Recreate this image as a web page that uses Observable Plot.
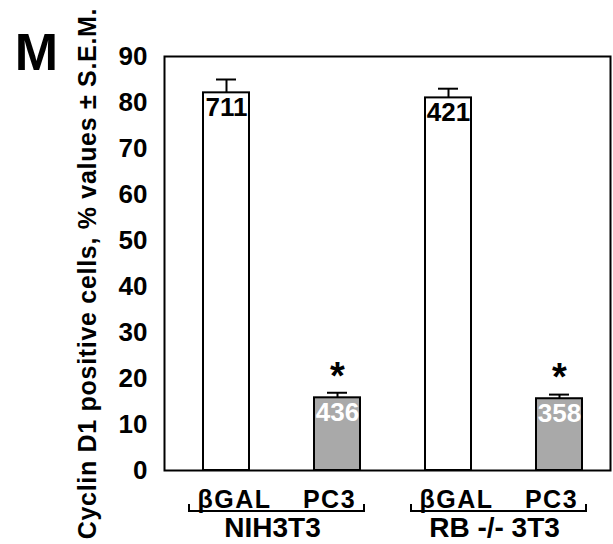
<!DOCTYPE html>
<html><head><meta charset="utf-8">
<script src="https://cdn.jsdelivr.net/npm/d3@7"></script>
<script src="https://cdn.jsdelivr.net/npm/@observablehq/plot@0.6"></script>
<style>
body{margin:0;background:#fff;}
</style></head><body><div id="chart"></div>
<script>
const groups = ["NIH3T3", "RB -/- 3T3"];
const treatments = ["βGAL", "PC3"];
const values = [82.1, 15.8, 81.0, 15.6];
const sems = [2.9, 1.1, 2.0, 0.9];
const counts = ["711", "436", "421", "358"];
const yTicks = [0, 10, 20, 30, 40, 50, 60, 70, 80, 90];
const yLabel = "Cyclin D1 positive cells, % values ± S.E.M.";
const panelLetter = "M";
const sigMark = "*";

const data = [];
groups.forEach((g, gi) => treatments.forEach((t, ti) => {
  const i = gi * treatments.length + ti;
  data.push({id: g + "|" + t, group: g, treatment: t, value: values[i], sem: sems[i], n: counts[i]});
}));
const ids = data.map(d => d.id);
const FONT = "'Liberation Sans', Arial, Helvetica, sans-serif";

function brackets(index, scales) {
  const x = scales.x, y = scales.y;
  const bw = x.bandwidth ? x.bandwidth() : 0;
  const g = d3.create("svg:g");
  groups.forEach(grp => {
    const gi = treatments.map(t => grp + "|" + t);
    const left = x(gi[0]) - 14;
    const right = x(gi[gi.length - 1]) + bw + 4;
    const yb = y(0) + 41;
    g.append("path")
      .attr("d", `M${left},${yb - 7}V${yb}H${right}V${yb - 7}`)
      .attr("fill", "none").attr("stroke", "black").attr("stroke-width", 2);
    g.append("text")
      .attr("x", (left + right) / 2 - 4)
      .attr("y", y(0) + 67)
      .attr("text-anchor", "middle")
      .attr("font-family", FONT)
      .attr("font-weight", "bold")
      .attr("font-size", 28)
      .text(grp);
  });
  return g.node();
}

const chart = Plot.plot({
  width: 613,
  height: 544,
  marginLeft: 164,
  marginRight: 3,
  marginTop: 56,
  marginBottom: 74,
  style: {fontFamily: FONT, background: "white"},
  x: {domain: ids, paddingInner: 0.59, paddingOuter: 0.3, align: 0.58, axis: null},
  y: {domain: [0, 90], axis: null},
  color: {domain: treatments, range: ["#ffffff", "#a9a9a9"]},
  marks: [
    Plot.barY(data, {x: "id", y: "value", fill: "treatment", stroke: "black", strokeWidth: 2}),
    Plot.ruleX(data, {x: "id", y1: "value", y2: d => d.value + d.sem, stroke: "black", strokeWidth: 2}),
    Plot.tickY(data, {x: "id", y: d => d.value + d.sem, stroke: "black", strokeWidth: 2, insetLeft: 13, insetRight: 13}),
    Plot.text(data.filter(d => d.treatment === treatments[0]), {x: "id", y: "value", text: "n", lineAnchor: "top", dy: 5, fill: "black", fontSize: 26, fontWeight: "bold"}),
    Plot.text(data.filter(d => d.treatment === treatments[1]), {x: "id", y: "value", text: "n", lineAnchor: "top", dy: 5, fill: "white", fontSize: 26, fontWeight: "bold"}),
    Plot.text(data.filter(d => d.treatment === treatments[1]), {x: "id", y: "value", text: () => sigMark, lineAnchor: "middle", dy: -21, fill: "black", fontSize: 38, fontWeight: "bold"}),
    Plot.frame({stroke: "black", strokeWidth: 2}),
    Plot.axisY({ticks: yTicks, tickSize: 0, tickPadding: 17, fontSize: 26, fontWeight: "bold", label: null, color: "black"}),
    Plot.text(data.filter(d => d.treatment === treatments[0]), {x: "id", frameAnchor: "bottom", text: "treatment", dy: 29, dx: 8, lineAnchor: "middle", fontSize: 25, fontWeight: "bold", fill: "black"}),
    Plot.text(data.filter(d => d.treatment === treatments[1]), {x: "id", frameAnchor: "bottom", text: "treatment", dy: 29, dx: -8, lineAnchor: "middle", fontSize: 25, fontWeight: "bold", fill: "black"}),
    Plot.text([yLabel], {frameAnchor: "left", text: d => d, rotate: -90, dx: -77, dy: 10, lineAnchor: "middle", textAnchor: "middle", fontSize: 25, fontWeight: "bold", fill: "black"}),
    Plot.text([panelLetter], {frameAnchor: "top-left", text: d => d, dx: -128, dy: -3, lineAnchor: "middle", textAnchor: "middle", fontSize: 52, fontWeight: 900, fill: "black", fontFamily: "'Liberation Sans Narrow', 'Liberation Sans', Arial, sans-serif"}),
    brackets
  ]
});
// widen the letter spacing of the long labels, as in the reference typeface
d3.select(chart).selectAll("text")
  .filter(function() { return this.textContent === yLabel; })
  .style("letter-spacing", "0.7px");
d3.select(chart).selectAll("text")
  .filter(function() { return treatments.includes(this.textContent); })
  .style("letter-spacing", "1.5px");
document.getElementById("chart").appendChild(chart);
</script>
</body></html>
